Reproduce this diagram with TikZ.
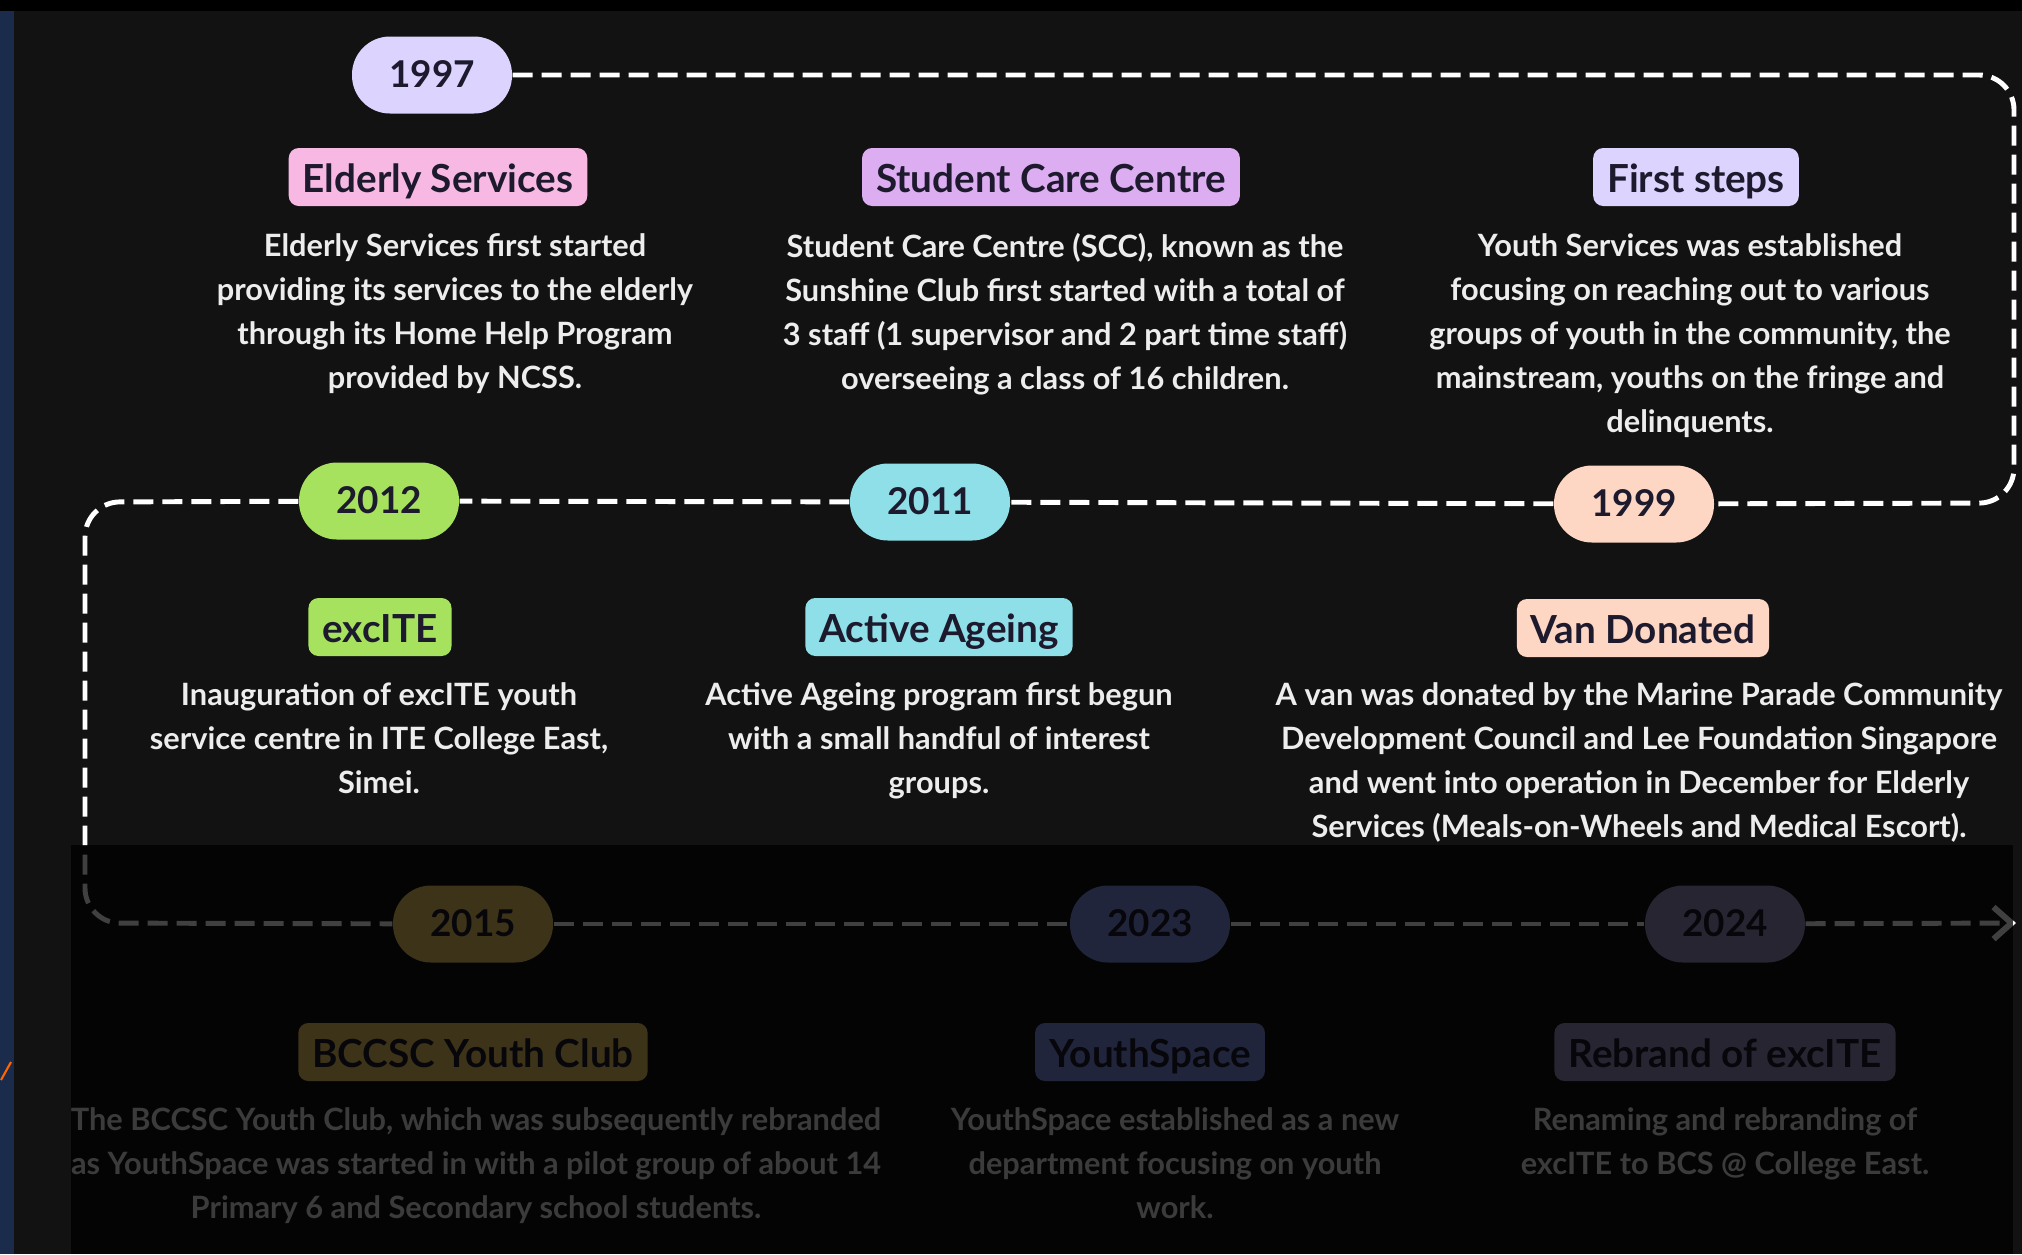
\documentclass[tikz,border=0pt]{standalone}
\usepackage{fontspec}
\setmainfont{Lato}
\usetikzlibrary{arrows.meta}
\definecolor{panel}{HTML}{121212}
\definecolor{strip}{HTML}{1B2B4C}
\definecolor{ink}{HTML}{1E1A2E}
\definecolor{lilac}{HTML}{DCD3FF}
\definecolor{blush}{HTML}{F7B9E3}
\definecolor{orchid}{HTML}{DDADF2}
\definecolor{lime}{HTML}{A6E25E}
\definecolor{aqua}{HTML}{8EDFE8}
\definecolor{peach}{HTML}{FDD6C4}
\definecolor{gold}{HTML}{F2CC62}
\definecolor{steel}{HTML}{8196EE}
\definecolor{mauve}{HTML}{9C95C4}
\definecolor{paper}{HTML}{EDEDED}
\tikzset{year/.style={fill=#1, text=ink, rounded corners=3.8mm, minimum width=16mm,
    minimum height=7.7mm, text height=2.8mm, text depth=0.3mm,
    font=\fontsize{10.5}{12}\selectfont\bfseries},
  head/.style={fill=#1, text=ink, rounded corners=1mm, inner xsep=1.4mm, inner ysep=1mm,
    minimum height=5.8mm, text height=3.3mm, text depth=0.3mm,
    font=\fontsize{11}{13}\selectfont\bfseries},
  desc/.style={text=paper, align=center, anchor=north, inner sep=0pt,
    font=\fontsize{8.75}{12.5}\selectfont\bfseries},
  tline/.style={draw=white, line width=1.4pt, dash pattern=on 2mm off 0.9mm,
    rounded corners=3.5mm}}

\begin{document}
\begin{tikzpicture}[x=0.1mm, y=-0.1mm]
		\useasboundingbox (0,0) rectangle (2022,1254);
		\fill[black] (0,0) rectangle (2022,1254);
		\fill[panel] (14,11) rectangle (2022,1254);
		\fill[strip] (0,11) rectangle (14,1254);
		\draw[orange!80!red, line width=0.6pt] (1,1080) -- (11,1062);

		\coordinate (rt1) at (2014,75);
		\coordinate (rt2) at (2014,503);
		\coordinate (lf1) at (85,502);
		\coordinate (lf2) at (85,923);
		\coordinate (tip) at (2016,923);

		\node[year=lilac] (y1997) at (432,75) {1997};
		\node[year=peach] (y1999) at (1634,504) {1999};
		\node[year=aqua] (y2011) at (930,502) {2011};
		\node[year=lime] (y2012) at (379,501) {2012};
		\node[year=gold] (y2015) at (473,924) {2015};
		\node[year=steel] (y2023) at (1150,924) {2023};
		\node[year=mauve] (y2024) at (1725,924) {2024};

		\draw[tline] (y1997) -- (rt1) -- (rt2) -- (y1999);
		\draw[tline] (y1999) -- (y2011);
		\draw[tline] (y2011) -- (y2012);
		\draw[tline] (y2012) -- (lf1) -- (lf2) -- (y2015);
		\draw[tline] (y2015) -- (y2023);
		\draw[tline] (y2023) -- (y2024);
		\draw[tline, -{Straight Barb[length=1.8mm, width=3.2mm, line width=1.7pt]}] (y2024) -- (tip);

		\node[head=blush] (elderly) at (438,177) {Elderly Services};
		\node[head=orchid] (scc) at (1051,177) {Student Care Centre};
		\node[head=lilac] (first) at (1696,177) {First steps};
		\node[head=lime] (excite) at (380,627) {excITE};
		\node[head=aqua] (ageing) at (939,627) {Active Ageing};
		\node[head=peach] (van) at (1643,628) {Van Donated};
		\node[head=gold] (club) at (473,1052) {BCCSC Youth Club};
		\node[head=steel] (space) at (1150,1052) {YouthSpace};
		\node[head=mauve] (rebrand) at (1725,1052) {Rebrand of excITE};

		\node[desc] (elderlytext) at (455,233) {Elderly Services first started\\providing its services to the elderly\\through its Home Help Program\\provided by NCSS.};
		\node[desc] (scctext) at (1065,233) {Student Care Centre (SCC), known as the\\Sunshine Club first started with a total of\\3 staff (1 supervisor and 2 part time staff)\\overseeing a class of 16 children.};
		\node[desc] (firsttext) at (1690,233) {Youth Services was established\\focusing on reaching out to various\\groups of youth in the community, the\\mainstream, youths on the fringe and\\delinquents.};
		\node[desc] (excitetext) at (379,682) {Inauguration of excITE youth\\service centre in ITE College East,\\Simei.};
		\node[desc] (ageingtext) at (939,682) {Active Ageing program first begun\\with a small handful of interest\\groups.};
		\node[desc] (vantext) at (1639,682) {A van was donated by the Marine Parade Community\\Development Council and Lee Foundation Singapore\\and went into operation in December for Elderly\\Services (Meals-on-Wheels and Medical Escort).};
		\node[desc] (clubtext) at (476,1107) {The BCCSC Youth Club, which was subsequently rebranded\\as YouthSpace was started in with a pilot group of about 14\\Primary 6 and Secondary school students.};
		\node[desc] (spacetext) at (1175,1107) {YouthSpace established as a new\\department focusing on youth\\work.};
		\node[desc] (rebrandtext) at (1725,1107) {Renaming and rebranding of\\excITE to BCS @ College East.};

		\fill[black, opacity=0.75] (71,845) rectangle (2013,1254);
		\end{tikzpicture}
\end{document}
